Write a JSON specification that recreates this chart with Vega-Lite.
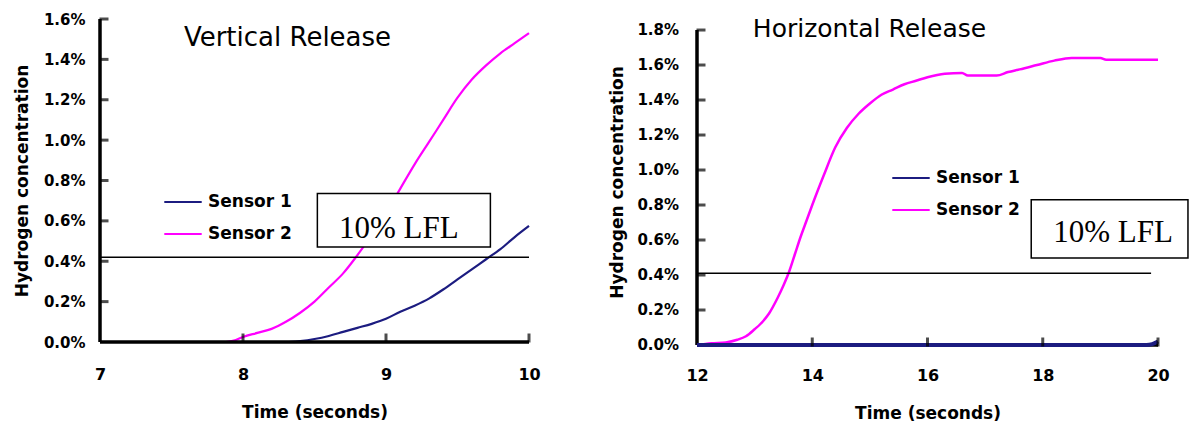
{
  "$schema": "https://vega.github.io/schema/vega-lite/v6.json",
  "padding": {"left": 13, "top": 12, "right": 0, "bottom": 0},
  "background": "white",
  "spacing": 67,
  "resolve": {"legend": {"color": "independent"}},
  "config": {
    "view": {"stroke": null},
    "font": "DejaVu Sans",
    "axis": {"grid": false, "domain": false, "ticks": false, "tickSize": 0, "labelColor": "black", "titleColor": "black", "labelFont": "DejaVu Sans", "labelFontWeight": "bold", "titleFont": "DejaVu Sans", "titleFontWeight": "bold", "titleFontSize": 17, "labelOverlap": false},
    "axisX": {"labelFontSize": 16, "labelPadding": 24, "titlePadding": 22, "labelFlush": false},
    "axisY": {"labelFontSize": 15, "labelPadding": 15, "titlePadding": 12},
    "legend": {"orient": "none", "title": null, "symbolType": "stroke", "symbolStrokeWidth": 2, "symbolSize": 1400, "labelFont": "DejaVu Sans", "labelFontWeight": "bold", "labelFontSize": 17, "labelColor": "black", "rowPadding": 4, "labelOffset": 5},
    "title": {"font": "DejaVu Sans", "fontWeight": "normal", "color": "black", "anchor": "middle", "frame": "group", "baseline": "alphabetic"}
  },
  "datasets": {
    "curves": [
      {"panel": "V", "sensor": "Sensor 1", "t": 7, "c": 0},
      {"panel": "V", "sensor": "Sensor 1", "t": 8.3, "c": 0},
      {"panel": "V", "sensor": "Sensor 1", "t": 8.4, "c": 0.005},
      {"panel": "V", "sensor": "Sensor 1", "t": 8.5, "c": 0.015},
      {"panel": "V", "sensor": "Sensor 1", "t": 8.6, "c": 0.03},
      {"panel": "V", "sensor": "Sensor 1", "t": 8.7, "c": 0.05},
      {"panel": "V", "sensor": "Sensor 1", "t": 8.8, "c": 0.07},
      {"panel": "V", "sensor": "Sensor 1", "t": 8.9, "c": 0.09},
      {"panel": "V", "sensor": "Sensor 1", "t": 9.0, "c": 0.115},
      {"panel": "V", "sensor": "Sensor 1", "t": 9.1, "c": 0.15},
      {"panel": "V", "sensor": "Sensor 1", "t": 9.2, "c": 0.18},
      {"panel": "V", "sensor": "Sensor 1", "t": 9.3, "c": 0.215},
      {"panel": "V", "sensor": "Sensor 1", "t": 9.4, "c": 0.26},
      {"panel": "V", "sensor": "Sensor 1", "t": 9.5, "c": 0.31},
      {"panel": "V", "sensor": "Sensor 1", "t": 9.6, "c": 0.36},
      {"panel": "V", "sensor": "Sensor 1", "t": 9.7, "c": 0.41},
      {"panel": "V", "sensor": "Sensor 1", "t": 9.8, "c": 0.46},
      {"panel": "V", "sensor": "Sensor 1", "t": 9.9, "c": 0.52},
      {"panel": "V", "sensor": "Sensor 1", "t": 10, "c": 0.575},
      {"panel": "V", "sensor": "Sensor 2", "t": 7.88, "c": 0},
      {"panel": "V", "sensor": "Sensor 2", "t": 7.95, "c": 0.01},
      {"panel": "V", "sensor": "Sensor 2", "t": 8.0, "c": 0.025},
      {"panel": "V", "sensor": "Sensor 2", "t": 8.1, "c": 0.045},
      {"panel": "V", "sensor": "Sensor 2", "t": 8.2, "c": 0.065},
      {"panel": "V", "sensor": "Sensor 2", "t": 8.3, "c": 0.1},
      {"panel": "V", "sensor": "Sensor 2", "t": 8.4, "c": 0.145},
      {"panel": "V", "sensor": "Sensor 2", "t": 8.5, "c": 0.2},
      {"panel": "V", "sensor": "Sensor 2", "t": 8.6, "c": 0.27},
      {"panel": "V", "sensor": "Sensor 2", "t": 8.7, "c": 0.34},
      {"panel": "V", "sensor": "Sensor 2", "t": 8.8, "c": 0.43},
      {"panel": "V", "sensor": "Sensor 2", "t": 8.9, "c": 0.53},
      {"panel": "V", "sensor": "Sensor 2", "t": 9.0, "c": 0.64},
      {"panel": "V", "sensor": "Sensor 2", "t": 9.1, "c": 0.76},
      {"panel": "V", "sensor": "Sensor 2", "t": 9.2, "c": 0.88},
      {"panel": "V", "sensor": "Sensor 2", "t": 9.3, "c": 0.99},
      {"panel": "V", "sensor": "Sensor 2", "t": 9.4, "c": 1.1},
      {"panel": "V", "sensor": "Sensor 2", "t": 9.5, "c": 1.21},
      {"panel": "V", "sensor": "Sensor 2", "t": 9.6, "c": 1.3},
      {"panel": "V", "sensor": "Sensor 2", "t": 9.7, "c": 1.37},
      {"panel": "V", "sensor": "Sensor 2", "t": 9.8, "c": 1.43},
      {"panel": "V", "sensor": "Sensor 2", "t": 9.9, "c": 1.48},
      {"panel": "V", "sensor": "Sensor 2", "t": 10, "c": 1.53},
      {"panel": "H", "sensor": "Sensor 1", "t": 12, "c": 0},
      {"panel": "H", "sensor": "Sensor 1", "t": 19.8, "c": 0},
      {"panel": "H", "sensor": "Sensor 1", "t": 19.9, "c": 0.005},
      {"panel": "H", "sensor": "Sensor 1", "t": 20, "c": 0.02},
      {"panel": "H", "sensor": "Sensor 2", "t": 12, "c": 0},
      {"panel": "H", "sensor": "Sensor 2", "t": 12.25, "c": 0.01},
      {"panel": "H", "sensor": "Sensor 2", "t": 12.5, "c": 0.015},
      {"panel": "H", "sensor": "Sensor 2", "t": 12.7, "c": 0.03},
      {"panel": "H", "sensor": "Sensor 2", "t": 12.85, "c": 0.05},
      {"panel": "H", "sensor": "Sensor 2", "t": 13.0, "c": 0.09},
      {"panel": "H", "sensor": "Sensor 2", "t": 13.1, "c": 0.12},
      {"panel": "H", "sensor": "Sensor 2", "t": 13.25, "c": 0.18},
      {"panel": "H", "sensor": "Sensor 2", "t": 13.4, "c": 0.27},
      {"panel": "H", "sensor": "Sensor 2", "t": 13.5, "c": 0.34},
      {"panel": "H", "sensor": "Sensor 2", "t": 13.6, "c": 0.42},
      {"panel": "H", "sensor": "Sensor 2", "t": 13.7, "c": 0.52},
      {"panel": "H", "sensor": "Sensor 2", "t": 13.8, "c": 0.62},
      {"panel": "H", "sensor": "Sensor 2", "t": 13.9, "c": 0.71},
      {"panel": "H", "sensor": "Sensor 2", "t": 14.0, "c": 0.8},
      {"panel": "H", "sensor": "Sensor 2", "t": 14.2, "c": 0.97},
      {"panel": "H", "sensor": "Sensor 2", "t": 14.4, "c": 1.13},
      {"panel": "H", "sensor": "Sensor 2", "t": 14.6, "c": 1.24},
      {"panel": "H", "sensor": "Sensor 2", "t": 14.8, "c": 1.32},
      {"panel": "H", "sensor": "Sensor 2", "t": 15.0, "c": 1.38},
      {"panel": "H", "sensor": "Sensor 2", "t": 15.2, "c": 1.43},
      {"panel": "H", "sensor": "Sensor 2", "t": 15.4, "c": 1.46},
      {"panel": "H", "sensor": "Sensor 2", "t": 15.6, "c": 1.49},
      {"panel": "H", "sensor": "Sensor 2", "t": 15.8, "c": 1.51},
      {"panel": "H", "sensor": "Sensor 2", "t": 16.0, "c": 1.53},
      {"panel": "H", "sensor": "Sensor 2", "t": 16.3, "c": 1.55},
      {"panel": "H", "sensor": "Sensor 2", "t": 16.6, "c": 1.555},
      {"panel": "H", "sensor": "Sensor 2", "t": 16.7, "c": 1.54},
      {"panel": "H", "sensor": "Sensor 2", "t": 17.0, "c": 1.54},
      {"panel": "H", "sensor": "Sensor 2", "t": 17.2, "c": 1.54},
      {"panel": "H", "sensor": "Sensor 2", "t": 17.4, "c": 1.56},
      {"panel": "H", "sensor": "Sensor 2", "t": 17.6, "c": 1.575},
      {"panel": "H", "sensor": "Sensor 2", "t": 17.9, "c": 1.6},
      {"panel": "H", "sensor": "Sensor 2", "t": 18.2, "c": 1.625},
      {"panel": "H", "sensor": "Sensor 2", "t": 18.5, "c": 1.64},
      {"panel": "H", "sensor": "Sensor 2", "t": 19.0, "c": 1.64},
      {"panel": "H", "sensor": "Sensor 2", "t": 19.1, "c": 1.63},
      {"panel": "H", "sensor": "Sensor 2", "t": 20, "c": 1.63}
    ],
    "refs": [
      {"panel": "V", "x1": 7, "x2": 10, "y": 0.42},
      {"panel": "H", "x1": 12, "x2": 19.88, "y": 0.41}
    ],
    "boxes": [
      {"panel": "V", "x1": 8.52, "x2": 9.73, "y1": 0.47, "y2": 0.735, "tx": 9.09, "ty": 0.56, "label": "10% LFL"},
      {"panel": "H", "x1": 17.8, "x2": 20.52, "y1": 0.497, "y2": 0.83, "tx": 19.22, "ty": 0.64, "label": "10% LFL"}
    ],
    "axislines": [
      {"panel": "V", "x": 7, "x2": 7, "y": 0, "y2": 1.6},
      {"panel": "V", "x": 7, "x2": 10, "y": 0, "y2": 0},
      {"panel": "H", "x": 12, "x2": 12, "y": 0, "y2": 1.8},
      {"panel": "H", "x": 12, "x2": 20, "y": 0, "y2": 0}
    ],
    "yticks": [
      {"panel": "V", "x": 7, "v": 0.2, "label": "0.2%"}, {"panel": "V", "x": 7, "v": 0.4, "label": "0.4%"}, {"panel": "V", "x": 7, "v": 0.6, "label": "0.6%"}, {"panel": "V", "x": 7, "v": 0.8, "label": "0.8%"},
      {"panel": "V", "x": 7, "v": 1.0, "label": "1.0%"}, {"panel": "V", "x": 7, "v": 1.2, "label": "1.2%"}, {"panel": "V", "x": 7, "v": 1.4, "label": "1.4%"}, {"panel": "V", "x": 7, "v": 1.6, "label": "1.6%"},
      {"panel": "H", "x": 12, "v": 0.0, "label": "0.0%"},
      {"panel": "H", "x": 12, "v": 0.2, "label": "0.2%"}, {"panel": "H", "x": 12, "v": 0.4, "label": "0.4%"}, {"panel": "H", "x": 12, "v": 0.6, "label": "0.6%"}, {"panel": "H", "x": 12, "v": 0.8, "label": "0.8%"},
      {"panel": "H", "x": 12, "v": 1.0, "label": "1.0%"}, {"panel": "H", "x": 12, "v": 1.2, "label": "1.2%"}, {"panel": "H", "x": 12, "v": 1.4, "label": "1.4%"}, {"panel": "H", "x": 12, "v": 1.6, "label": "1.6%"}, {"panel": "H", "x": 12, "v": 1.8, "label": "1.8%"}
    ],
    "xticks": [
      {"panel": "V", "v": 8, "y": 0}, {"panel": "V", "v": 9, "y": 0}, {"panel": "V", "v": 10, "y": 0},
      {"panel": "H", "v": 14, "y": 0}, {"panel": "H", "v": 16, "y": 0}, {"panel": "H", "v": 18, "y": 0}, {"panel": "H", "v": 20, "y": 0}
    ]
  },
  "hconcat": [
    {
      "width": 429,
      "height": 323,
      "title": {"text": "Vertical Release", "fontSize": 26, "dx": -27, "dy": 43},
      "layer": [
        {
          "data": {"name": "curves"},
          "transform": [{"filter": "datum.panel == 'V'"}],
          "mark": {"type": "line", "strokeWidth": 2.2, "interpolate": "monotone"},
          "encoding": {
            "x": {"field": "t", "type": "quantitative", "title": "Time (seconds)", "scale": {"domain": [7, 10], "nice": false}, "axis": {"values": [7, 8, 9, 10], "format": "d"}},
            "y": {"field": "c", "type": "quantitative", "title": "Hydrogen concentration", "scale": {"domain": [0, 1.6], "nice": false}, "axis": {"values": [0, 0.2, 0.4, 0.6, 0.8, 1.0, 1.2, 1.4, 1.6], "labelExpr": "format(datum.value, '.1f') + '%'", "labelOverlap": false}},
            "color": {"field": "sensor", "type": "nominal", "scale": {"domain": ["Sensor 1", "Sensor 2"], "range": ["#1c1c80", "#ff00ff"]}, "legend": {"legendX": 63, "legendY": 163}}
          }
        },
        {
          "data": {"name": "axislines"},
          "transform": [{"filter": "datum.panel == 'V'"}],
          "mark": {"type": "rule", "color": "black", "strokeWidth": 3.5},
          "encoding": {
            "x": {"field": "x", "type": "quantitative", "title": "Time (seconds)"},
            "x2": {"field": "x2"},
            "y": {"field": "y", "type": "quantitative", "title": "Hydrogen concentration"},
            "y2": {"field": "y2"}
          }
        },
        {
          "data": {"name": "yticks"},
          "transform": [{"filter": "datum.panel == 'V'"}],
          "mark": {"type": "tick", "orient": "horizontal", "color": "black", "size": 9, "thickness": 3, "xOffset": 4},
          "encoding": {
            "x": {"field": "x", "type": "quantitative", "title": "Time (seconds)"},
            "y": {"field": "v", "type": "quantitative", "title": "Hydrogen concentration"}
          }
        },
        {
          "data": {"name": "xticks"},
          "transform": [{"filter": "datum.panel == 'V'"}],
          "mark": {"type": "tick", "orient": "vertical", "color": "black", "size": 9, "thickness": 3, "yOffset": -4},
          "encoding": {
            "x": {"field": "v", "type": "quantitative", "title": "Time (seconds)"},
            "y": {"field": "y", "type": "quantitative", "title": "Hydrogen concentration"}
          }
        },
        {
          "data": {"name": "refs"},
          "transform": [{"filter": "datum.panel == 'V'"}],
          "mark": {"type": "rule", "color": "black", "strokeWidth": 1.5},
          "encoding": {
            "x": {"field": "x1", "type": "quantitative", "title": "Time (seconds)"},
            "x2": {"field": "x2"},
            "y": {"field": "y", "type": "quantitative", "title": "Hydrogen concentration"}
          }
        },
        {
          "data": {"name": "boxes"},
          "transform": [{"filter": "datum.panel == 'V'"}],
          "mark": {"type": "rect", "fill": "white", "stroke": "black", "strokeWidth": 1.5},
          "encoding": {
            "x": {"field": "x1", "type": "quantitative", "title": "Time (seconds)"},
            "x2": {"field": "x2"},
            "y": {"field": "y1", "type": "quantitative", "title": "Hydrogen concentration"},
            "y2": {"field": "y2"}
          }
        },
        {
          "data": {"name": "boxes"},
          "transform": [{"filter": "datum.panel == 'V'"}],
          "mark": {"type": "text", "font": "Liberation Serif", "fontSize": 31, "color": "black", "baseline": "middle", "align": "center"},
          "encoding": {
            "x": {"field": "tx", "type": "quantitative", "title": "Time (seconds)"},
            "y": {"field": "ty", "type": "quantitative", "title": "Hydrogen concentration"},
            "text": {"field": "label"}
          }
        }
      ]
    },
    {
      "width": 461,
      "height": 326,
      "title": {"text": "Horizontal Release", "fontSize": 25, "dx": -58, "dy": 27},
      "layer": [
        {
          "data": {"name": "axislines"},
          "transform": [{"filter": "datum.panel == 'H'"}],
          "mark": {"type": "rule", "color": "black", "strokeWidth": 3.5},
          "encoding": {
            "x": {"field": "x", "type": "quantitative", "title": "Time (seconds)", "scale": {"domain": [12, 20], "nice": false}, "axis": {"values": [12, 14, 16, 18, 20], "format": "d", "labelPadding": 22}},
            "x2": {"field": "x2"},
            "y": {"field": "y", "type": "quantitative", "title": "Hydrogen concentration", "scale": {"domain": [0, 1.863], "nice": false}, "axis": {"values": [0, 0.2, 0.4, 0.6, 0.8, 1.0, 1.2, 1.4, 1.6, 1.8], "labels": false, "titlePadding": 71}},
            "y2": {"field": "y2"}
          }
        },
        {
          "data": {"name": "yticks"},
          "transform": [{"filter": "datum.panel == 'H'"}],
          "mark": {"type": "text", "font": "DejaVu Sans", "fontWeight": "bold", "fontSize": 15, "color": "black", "align": "right", "baseline": "middle", "dx": -18},
          "encoding": {
            "x": {"field": "x", "type": "quantitative", "title": "Time (seconds)"},
            "y": {"field": "v", "type": "quantitative", "title": "Hydrogen concentration"},
            "text": {"field": "label"}
          }
        },
        {
          "data": {"name": "yticks"},
          "transform": [{"filter": "datum.panel == 'H' && datum.v > 0"}],
          "mark": {"type": "tick", "orient": "horizontal", "color": "black", "size": 9, "thickness": 3, "xOffset": 4},
          "encoding": {
            "x": {"field": "x", "type": "quantitative", "title": "Time (seconds)"},
            "y": {"field": "v", "type": "quantitative", "title": "Hydrogen concentration"}
          }
        },
        {
          "data": {"name": "curves"},
          "transform": [{"filter": "datum.panel == 'H' && datum.sensor == 'Sensor 2'"}],
          "mark": {"type": "line", "strokeWidth": 2.5, "interpolate": "monotone"},
          "encoding": {
            "x": {"field": "t", "type": "quantitative", "title": "Time (seconds)"},
            "y": {"field": "c", "type": "quantitative", "title": "Hydrogen concentration"},
            "color": {"field": "sensor", "type": "nominal", "scale": {"domain": ["Sensor 1", "Sensor 2"], "range": ["#1c1c80", "#ff00ff"]}, "legend": {"legendX": 194, "legendY": 139}}
          }
        },
        {
          "data": {"name": "curves"},
          "transform": [{"filter": "datum.panel == 'H' && datum.sensor == 'Sensor 1'"}],
          "mark": {"type": "line", "strokeWidth": 4, "interpolate": "monotone"},
          "encoding": {
            "x": {"field": "t", "type": "quantitative", "title": "Time (seconds)"},
            "y": {"field": "c", "type": "quantitative", "title": "Hydrogen concentration"},
            "color": {"field": "sensor", "type": "nominal"}
          }
        },
        {
          "data": {"name": "xticks"},
          "transform": [{"filter": "datum.panel == 'H'"}],
          "mark": {"type": "tick", "orient": "vertical", "color": "black", "size": 9, "thickness": 3, "yOffset": -3},
          "encoding": {
            "x": {"field": "v", "type": "quantitative", "title": "Time (seconds)"},
            "y": {"field": "y", "type": "quantitative", "title": "Hydrogen concentration"}
          }
        },
        {
          "data": {"name": "refs"},
          "transform": [{"filter": "datum.panel == 'H'"}],
          "mark": {"type": "rule", "color": "black", "strokeWidth": 1.5},
          "encoding": {
            "x": {"field": "x1", "type": "quantitative", "title": "Time (seconds)"},
            "x2": {"field": "x2"},
            "y": {"field": "y", "type": "quantitative", "title": "Hydrogen concentration"}
          }
        },
        {
          "data": {"name": "boxes"},
          "transform": [{"filter": "datum.panel == 'H'"}],
          "mark": {"type": "rect", "fill": "white", "stroke": "black", "strokeWidth": 1.5, "clip": false},
          "encoding": {
            "x": {"field": "x1", "type": "quantitative", "title": "Time (seconds)"},
            "x2": {"field": "x2"},
            "y": {"field": "y1", "type": "quantitative", "title": "Hydrogen concentration"},
            "y2": {"field": "y2"}
          }
        },
        {
          "data": {"name": "boxes"},
          "transform": [{"filter": "datum.panel == 'H'"}],
          "mark": {"type": "text", "font": "Liberation Serif", "fontSize": 31, "color": "black", "baseline": "middle", "align": "center"},
          "encoding": {
            "x": {"field": "tx", "type": "quantitative", "title": "Time (seconds)"},
            "y": {"field": "ty", "type": "quantitative", "title": "Hydrogen concentration"},
            "text": {"field": "label"}
          }
        }
      ]
    }
  ]
}
